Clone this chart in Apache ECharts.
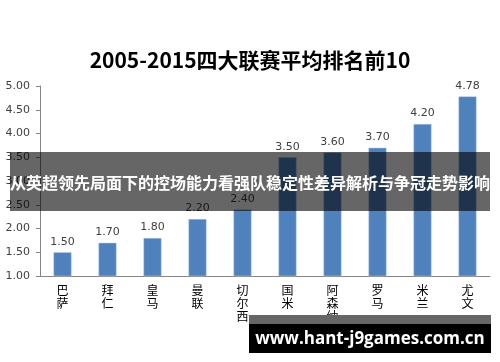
<!DOCTYPE html>
<html>
<head>
<meta charset="utf-8">
<script src="https://cdn.jsdelivr.net/npm/echarts@6/dist/echarts.min.js"></script>
<style>
  html, body { margin: 0; padding: 0; background: #fff; }
  #chart { width: 500px; height: 362px; }
</style>
</head>
<body>
<div id="chart"></div>
<script>
// data
const teams = ["巴萨", "拜仁", "皇马", "曼联", "切尔西", "国米", "阿森纳", "罗马", "米兰", "尤文"]
const avgRank = [1.50, 1.70, 1.80, 2.20, 2.40, 3.50, 3.60, 3.70, 4.20, 4.78]

const titleText = "2005-2015四大联赛平均排名前10"
const bannerText = "从英超领先局面下的控场能力看强队稳定性差异解析与争冠走势影响"
const siteText = "www.hant-j9games.com.cn"

const cjk = "'Noto Sans CJK SC', 'Liberation Sans', sans-serif"

let myChart = echarts.init(document.getElementById("chart"))

let option = {
    animation: false,
    title: {
        text: titleText,
        left: "center",
        top: 45,
        textStyle: {
            fontFamily: cjk,
            fontSize: 21,
            fontWeight: "bold",
            color: "#000"
        }
    },
    grid: {
        left: 40,
        right: 10,
        top: 86,
        bottom: 86
    },
    xAxis: {
        type: "category",
        data: teams,
        axisLine: { lineStyle: { color: "#868686" } },
        axisTick: { length: 4, lineStyle: { color: "#868686" } },
        axisLabel: {
            margin: 8,
            fontFamily: cjk,
            fontSize: 12,
            lineHeight: 13,
            color: "#000",
            interval: 0,
            formatter: v => v.split("").join("\n")
        }
    },
    yAxis: {
        type: "value",
        min: 1,
        max: 5,
        interval: 0.5,
        axisLine: { show: true, lineStyle: { color: "#868686" } },
        axisTick: { show: true, length: 4, lineStyle: { color: "#868686" } },
        splitLine: { show: false },
        axisLabel: {
            margin: 10,
            fontFamily: "'DejaVu Sans', sans-serif",
            fontSize: 11,
            color: "#404040",
            formatter: v => v.toFixed(2)
        }
    },
    series: [{
        type: "bar",
        data: avgRank,
        barWidth: 18,
        itemStyle: {
            color: "#4F81BD",
            borderColor: "#B9CDE5",
            borderWidth: 0.5
        },
        label: {
            show: true,
            position: "top",
            distance: 5,
            fontFamily: "'DejaVu Sans', sans-serif",
            fontSize: 11,
            color: "#404040",
            formatter: p => p.value.toFixed(2)
        }
    }],
    graphic: [
        {
            type: "rect",
            shape: { x: 10, y: 152, width: 480, height: 59 },
            style: { fill: "rgba(0,0,0,0.6)" },
            z: 100
        },
        {
            type: "text",
            x: 250,
            y: 183,
            style: {
                text: bannerText,
                fill: "#fff",
                fontFamily: cjk,
                fontSize: 16,
                fontWeight: "bold",
                align: "center",
                verticalAlign: "middle"
            },
            z: 101
        },
        {
            type: "rect",
            shape: { x: 249, y: 315, width: 242, height: 9 },
            style: { fill: "#666" },
            z: 100
        },
        {
            type: "rect",
            shape: { x: 249, y: 324, width: 242, height: 29 },
            style: { fill: "#000" },
            z: 100
        },
        {
            type: "text",
            x: 370,
            y: 339,
            style: {
                text: siteText,
                fill: "#fff",
                fontFamily: "'Open Sans', 'DejaVu Sans', sans-serif",
                fontSize: 17,
                fontWeight: "bold",
                align: "center",
                verticalAlign: "middle"
            },
            z: 101
        }
    ]
}
myChart.setOption(option)
</script>
</body>
</html>
